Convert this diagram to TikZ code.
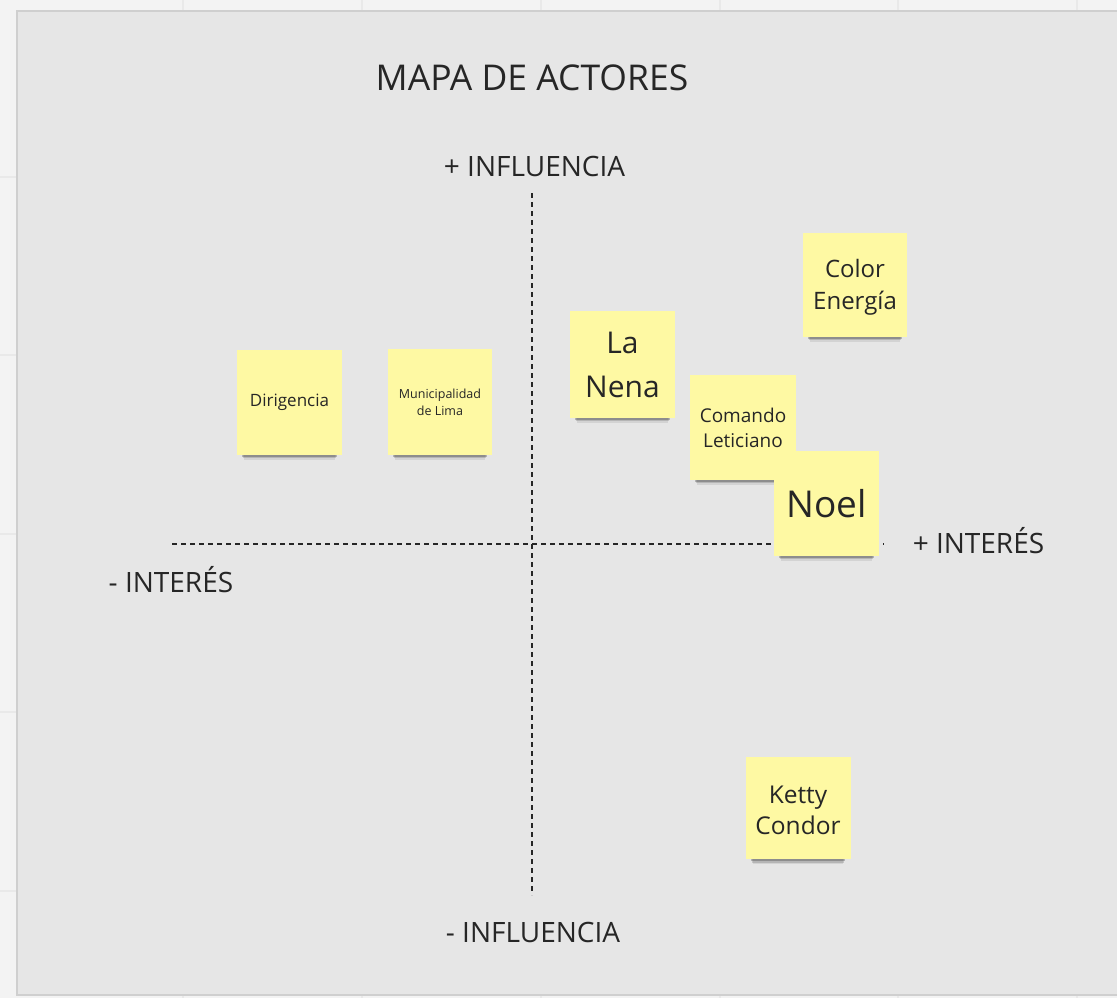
\documentclass[tikz,border=0pt]{standalone}
\usepackage{fontspec}
\setmainfont{Open Sans}
\usepackage{tikz}
\usetikzlibrary{shadows}
\definecolor{lienzo}{HTML}{F3F3F3}
\definecolor{rejilla}{HTML}{E9E9E9}
\definecolor{marco}{HTML}{E6E6E6}
\definecolor{borde}{HTML}{CFCFCF}
\definecolor{amarillo}{HTML}{FEF9A3}
\definecolor{tinta}{HTML}{262626}
\tikzset{nota/.style = {fill=amarillo, inner sep=0, align=center, text=tinta,
                        minimum width=105, minimum height=105,
                        general shadow={shadow scale=0.9, shadow yshift=-8pt, opacity=0.22, fill=black},
                        general shadow={shadow scale=0.88, shadow yshift=-11pt, opacity=0.14, fill=black},
                        general shadow={shadow scale=0.86, shadow yshift=-14pt, opacity=0.08, fill=black}}}
\tikzset{eje/.style = {line width=1.4, tinta, dash pattern=on 5pt off 4pt}}
\tikzset{rotulo/.style = {anchor=base, text=tinta, inner sep=0}}
\newcommand{\tam}[2]{\fontsize{#1}{#2}\selectfont}
\begin{document}
\begin{tikzpicture}[x=1pt, y=-1pt]
        \useasboundingbox (0, 0) rectangle (1117, 998);
        \fill [lienzo] (0, 0) rectangle (1117, 998);
        \foreach \gx in {183, 362, 541, 720, 898, 1077}
          \draw [rejilla, line width=1.5] (\gx, 0) -- (\gx, 998);
        \foreach \gy in {177, 355, 534, 712, 891}
          \draw [rejilla, line width=1.5] (0, \gy) -- (1117, \gy);

        \draw [borde, line width=1.5, fill=marco] (17, 11) rectangle (1130, 995);

        \node [rotulo, font=\tam{35.5}{42}] (titulo) at (532, 91) {MAPA DE ACTORES};
        \node [rotulo, font=\tam{28}{34}] (masinf) at (534.5, 176) {+ INFLUENCIA};
        \node [rotulo, font=\tam{28}{34}] (menosinf) at (533, 942) {- INFLUENCIA};
        \node [rotulo, font=\tam{28}{34}] (menosint) at (171, 592) {- INTERÉS};
        \node [rotulo, font=\tam{28}{34}] (masint) at (978.5, 553) {+ INTERÉS};

        % ejes
        \coordinate (arriba) at (532, 193);
        \coordinate (abajo) at (532, 895);
        \coordinate (izq) at (172, 544);
        \coordinate (der) at (884, 544);
        \draw [eje] (arriba) -- (abajo);
        \draw [eje] (izq) -- (der);

        % notas
        \node [nota, font=\tam{17}{22}] (dirigencia) at (289.5, 402.5) {Dirigencia};
        \node [nota, font=\tam{12.5}{17}, minimum width=104, minimum height=106] (muni) at (440, 402)
          {Municipalidad\\de Lima};
        \node [nota, font=\tam{30}{44}, minimum height=107] (nena) at (622.5, 364.5) {La\\Nena};
        \node [nota, font=\tam{24}{32}, minimum width=104, minimum height=104] (color) at (855, 285)
          {\rule{0pt}{22pt}Color\\Energía};
        \node [nota, font=\tam{19}{25}, minimum width=106] (comando) at (743, 427.5) {Comando\\Leticiano};
        \node [nota, font=\tam{37}{44}] (noel) at (826.5, 503.5) {Noel};
        \node [nota, font=\tam{24.5}{31}, minimum height=102] (ketty) at (798, 808) {\rule{0pt}{23pt}Ketty\\Condor};
      \end{tikzpicture}
\end{document}
